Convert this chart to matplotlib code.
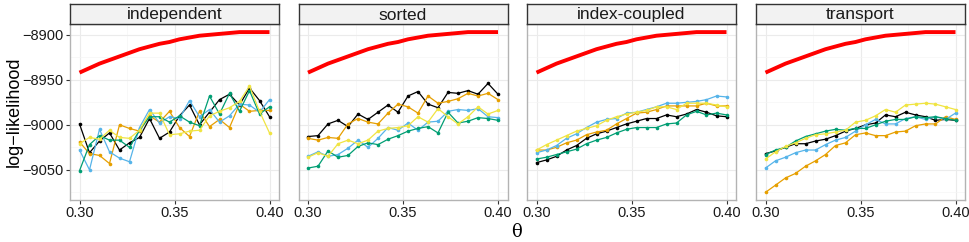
import numpy as np
import matplotlib
matplotlib.use("Agg")
import matplotlib.pyplot as plt

plt.rcParams["font.family"] = ["Liberation Sans", "DejaVu Sans"]

methods = ["independent", "sorted", "index-coupled", "transport"]
theta = np.linspace(0.30, 0.40, 20)

exact_loglik = [-8942, -8937, -8932, -8928, -8924, -8920, -8916, -8913, -8910, -8908,
                -8905, -8903, -8901, -8900, -8899, -8898, -8897, -8897, -8897, -8897]

series_colors = ["#000000", "#E69F00", "#56B4E9", "#009E73", "#F0E442"]

# one list per replicate (black, orange, sky blue, green, yellow) in each panel
independent = [
    [-8999, -9031, -9018, -9009, -9028, -9020, -9014, -8993, -9015, -9008,
     -8990, -8978, -9000, -8986, -8972, -8966, -8978, -8959, -8973, -8991],
    [-9019, -9032, -9034, -9043, -9000, -9004, -9007, -8990, -8997, -8985,
     -9003, -9013, -8985, -9002, -8994, -9003, -8977, -8985, -8984, -8984],
    [-9028, -9050, -9005, -9030, -9037, -9041, -9003, -8983, -8998, -8991,
     -8993, -8973, -8991, -8983, -8997, -8990, -8977, -8978, -8986, -8972],
    [-9051, -9022, -9012, -9017, -9017, -9025, -9006, -8991, -8991, -8997,
     -8990, -8997, -9001, -8968, -8988, -8965, -8985, -8962, -8988, -8980],
    [-9021, -9014, -9016, -9006, -9014, -9015, -9006, -8987, -8987, -9011,
     -9010, -9007, -9006, -8990, -8985, -8981, -8974, -8957, -8985, -9009],
]
sorted_ = [
    [-9013, -9012, -8999, -8995, -9002, -8988, -8994, -8986, -8978, -8986,
     -8968, -8963, -8977, -8981, -8964, -8965, -8962, -8966, -8954, -8966],
    [-9015, -9017, -9014, -9015, -8999, -8993, -8997, -8999, -8987, -8977,
     -8980, -8987, -8968, -8976, -8974, -8971, -8965, -8968, -8965, -8972],
    [-9035, -9030, -9035, -9033, -9026, -9017, -9025, -9015, -9003, -9006,
     -8998, -9006, -8997, -8996, -8985, -8983, -8984, -8982, -8991, -8992],
    [-9048, -9046, -9029, -9036, -9034, -9024, -9020, -9022, -9016, -9012,
     -9007, -9004, -9002, -9009, -8986, -8998, -8996, -8992, -8993, -8995],
    [-9036, -9031, -9035, -9021, -9017, -9021, -9017, -9007, -9004, -9003,
     -9001, -8991, -8997, -8982, -8991, -8999, -8991, -8980, -8988, -8984],
]
index_coupled = [
    [-9042, -9039, -9035, -9028, -9023, -9015, -9010, -9007, -9003, -8999,
     -8996, -8993, -8993, -8989, -8991, -8988, -8983, -8986, -8990, -8991],
    [-9028, -9028, -9025, -9020, -9017, -9011, -9008, -9006, -8999, -8993,
     -8987, -8986, -8983, -8979, -8979, -8979, -8979, -8976, -8979, -8979],
    [-9031, -9028, -9023, -9015, -9010, -9003, -8997, -8994, -8993, -8987,
     -8986, -8983, -8980, -8976, -8976, -8975, -8974, -8972, -8968, -8969],
    [-9038, -9036, -9033, -9030, -9027, -9021, -9017, -9014, -9009, -9005,
     -9003, -9003, -9003, -8999, -8998, -8989, -8985, -8989, -8987, -8989],
    [-9028, -9022, -9017, -9012, -9007, -9004, -9001, -8995, -8991, -8988,
     -8986, -8984, -8980, -8980, -8983, -8976, -8976, -8976, -8978, -8980],
]
transport = [
    [-9032, -9029, -9025, -9021, -9021, -9018, -9016, -9012, -9007, -9004,
     -9000, -8998, -8989, -8991, -8986, -8989, -8991, -8995, -8994, -8995],
    [-9075, -9067, -9059, -9054, -9046, -9040, -9033, -9023, -9020, -9011,
     -9009, -9012, -9012, -9008, -9007, -9001, -8999, -8999, -8991, -8994],
    [-9048, -9040, -9036, -9031, -9028, -9028, -9022, -9017, -9014, -9007,
     -9000, -8994, -8999, -8999, -8993, -8991, -8994, -8991, -8994, -8987],
    [-9033, -9028, -9025, -9018, -9013, -9010, -9007, -9005, -9006, -9004,
     -9004, -9000, -8996, -8994, -8994, -8991, -8992, -8991, -8993, -8995],
    [-9038, -9030, -9024, -9020, -9015, -9011, -9010, -9008, -9006, -8997,
     -8995, -8990, -8983, -8986, -8978, -8977, -8976, -8977, -8980, -8983],
]
panel_data = [independent, sorted_, index_coupled, transport]

W, H = 969, 242
fig = plt.figure(figsize=(W / 100, H / 100), dpi=100)

lefts = [70, 298.5, 527, 756]
pw = 209
top, strip_h, bottom = 24, 20, 200

for k, (name, reps) in enumerate(zip(methods, panel_data)):
    x0 = lefts[k]
    ax = fig.add_axes([x0 / W, (H - bottom) / H, pw / W, (bottom - top) / H])
    ax.set_facecolor("white")
    ax.plot(theta, exact_loglik, color="#FF0000", lw=2.8, solid_capstyle="butt", zorder=3)
    for vals, col in zip(reps, series_colors):
        ax.plot(theta, vals, color=col, lw=0.9, marker="o", ms=2.6,
                markeredgewidth=0, zorder=4)
    ax.set_xlim(0.295, 0.405)
    ax.set_ylim(-9083.5, -8888)
    ax.set_xticks([0.30, 0.35, 0.40])
    ax.set_xticklabels(["0.30", "0.35", "0.40"])
    ax.set_xticks([0.325, 0.375], minor=True)
    ax.set_yticks([-8900, -8950, -9000, -9050])
    ax.set_yticks([-8925, -8975, -9025, -9075], minor=True)
    ax.grid(True, which="major", color="#EBEBEB", lw=0.8)
    ax.grid(True, which="minor", color="#F5F5F5", lw=0.5)
    ax.set_axisbelow(True)
    for sp in ax.spines.values():
        sp.set_color("#B3B3B3")
        sp.set_linewidth(1.0)
    ax.tick_params(which="major", length=3, width=0.8, color="#333333",
                   labelsize=10.5, labelcolor="#1A1A1A", pad=1.5)
    ax.tick_params(which="minor", length=0)
    if k == 0:
        ax.set_yticklabels(["\u22128900", "\u22128950", "\u22129000", "\u22129050"])
    else:
        ax.tick_params(axis="y", which="major", left=False, labelleft=False)

    sax = fig.add_axes([x0 / W, (H - top) / H, pw / W, strip_h / H])
    sax.set_facecolor("#F2F2F2")
    sax.set_xticks([])
    sax.set_yticks([])
    for sp in sax.spines.values():
        sp.set_color("#333333")
        sp.set_linewidth(1.0)
    sax.text(0.5, 0.45, name, ha="center", va="center", fontsize=12.5,
             color="#1A1A1A", transform=sax.transAxes)

fig.text(517 / W, 1 - 232 / H, "\u03b8", ha="center", va="center", fontsize=13,
         family="DejaVu Serif")
fig.text(14 / W, 1 - 112 / H, "log\u2212likelihood", ha="center", va="center",
         rotation=90, fontsize=13)

fig.savefig("out.png", dpi=100)
